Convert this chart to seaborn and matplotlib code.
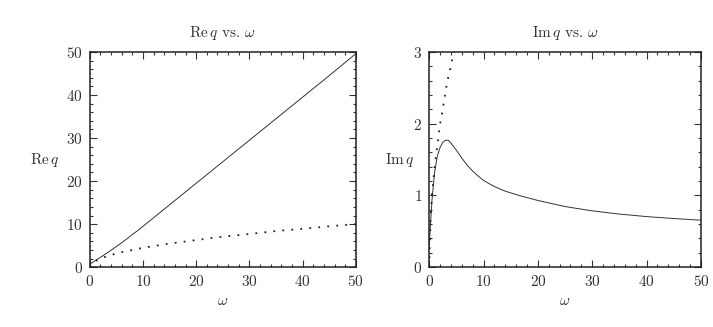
import matplotlib
matplotlib.use("Agg")
import matplotlib.pyplot as plt
from matplotlib.ticker import MultipleLocator
import pandas as pd
import seaborn as sns

# values
omega = [0, 0.25, 0.5, 1, 1.5, 2, 2.5, 3, 3.5, 4, 5, 6, 7, 8, 9, 10, 11, 12,
         13, 14, 15, 17, 20, 25, 30, 35, 40, 45, 50]
re_q = [0.7, 0.9, 1.1, 1.5, 1.9, 2.3, 2.7, 3.1, 3.5, 3.95, 4.8, 5.7, 6.6, 7.6,
        8.5, 9.5, 10.5, 11.5, 12.5, 13.5, 14.5, 16.5, 19.5, 24.5, 29.5, 34.5,
        39.5, 44.5, 49.6]
im_q = [0.3, 0.62, 0.93, 1.33, 1.55, 1.67, 1.74, 1.77, 1.77, 1.73, 1.63, 1.52,
        1.42, 1.34, 1.27, 1.21, 1.165, 1.125, 1.09, 1.06, 1.035, 0.99, 0.93,
        0.845, 0.785, 0.74, 0.705, 0.678, 0.655]
asym = [0, 0.7, 1.0, 1.4, 1.7, 2.0, 2.2, 2.45, 2.65, 2.8, 3.2, 3.5, 3.7, 4.0,
        4.25, 4.5, 4.7, 4.9, 5.1, 5.3, 5.5, 5.8, 6.3, 7.1, 7.7, 8.4, 8.9, 9.5,
        10.0]

df = pd.DataFrame({"omega": omega, "re": re_q, "im": im_q, "asym": asym})

sns.set_style("ticks")
plt.rcParams["font.family"] = ["cmr10", "DejaVu Serif"]
plt.rcParams["mathtext.fontset"] = "cm"
plt.rcParams["axes.formatter.use_mathtext"] = True
plt.rcParams["axes.unicode_minus"] = False

fig = plt.figure(figsize=(7.13, 3.27), dpi=100)
ax1 = fig.add_axes([0.126, 0.183, 0.373, 0.658])
ax2 = fig.add_axes([0.602, 0.183, 0.381, 0.658])

for ax, col, ymax, ymaj, ymin, lab, lx in [
        (ax1, "re", 50, 10, 2, r"$\mathrm{Re}\,q$", -0.17),
        (ax2, "im", 3, 1, 0.2, r"$\mathrm{Im}\,q$", -0.11)]:
    sns.lineplot(data=df, x="omega", y=col, ax=ax, color="#333333", lw=0.7)
    sns.lineplot(data=df, x="omega", y="asym", ax=ax, color="#222222",
                 lw=1.3, linestyle=(0, (1, 4)))
    ax.set_xlim(0, 50)
    ax.set_ylim(0, ymax)
    ax.xaxis.set_major_locator(MultipleLocator(10))
    ax.xaxis.set_minor_locator(MultipleLocator(2))
    ax.yaxis.set_major_locator(MultipleLocator(ymaj))
    ax.yaxis.set_minor_locator(MultipleLocator(ymin))
    ax.tick_params(which="both", direction="in", top=True, right=True,
                   labelsize=11, width=0.8, colors="#333333")
    ax.tick_params(which="major", length=5, pad=5)
    ax.tick_params(which="minor", length=2.5)
    for s in ax.spines.values():
        s.set_linewidth(1.1)
        s.set_color("#222222")
    ax.set_xlabel(r"$\omega$", fontsize=11, labelpad=4, color="#333333")
    ax.set_ylabel(lab, fontsize=11, rotation=0, va="center", color="#333333")
    ax.yaxis.set_label_coords(lx, 0.5)

ax1.set_title(r"$\mathrm{Re}\,q$ vs. $\omega$", fontsize=11, pad=11,
              color="#333333")
ax2.set_title(r"$\mathrm{Im}\,q$ vs. $\omega$", fontsize=11, pad=11,
              color="#333333")

fig.savefig("out.png", dpi=100)
